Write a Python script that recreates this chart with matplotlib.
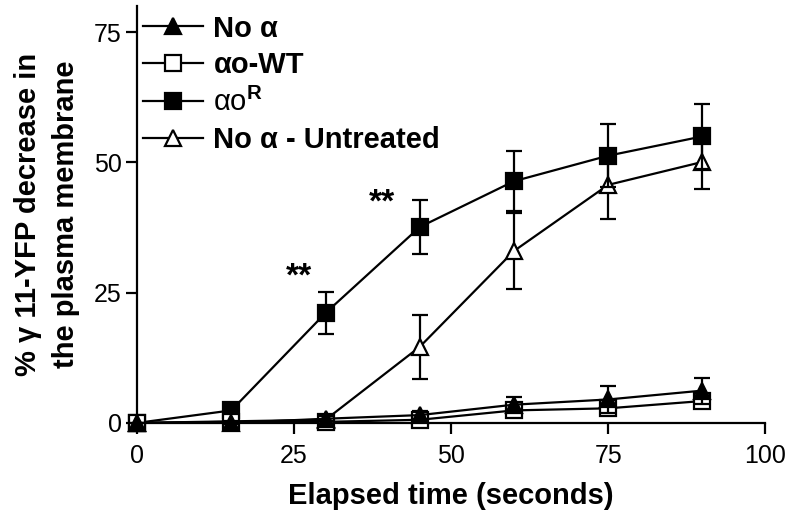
import numpy as np
import matplotlib
matplotlib.use("Agg")
import matplotlib.pyplot as plt
from matplotlib.lines import Line2D

plt.rcParams['font.family'] = ['Liberation Sans', 'DejaVu Sans']
plt.rcParams['mathtext.fontset'] = 'custom'
plt.rcParams['mathtext.rm'] = 'Liberation Sans'
plt.rcParams['mathtext.bf'] = 'Liberation Sans:bold'
plt.rcParams['mathtext.it'] = 'Liberation Sans:italic'

# time points (seconds)
t_all = [0, 15, 30, 45, 60, 75, 90]
t_untr = [0, 30, 45, 60, 75, 90]

no_a = [0, 0, 0.8, 1.5, 3.5, 4.5, 6.2]
no_a_err = [0, 0.3, 0.5, 0.8, 1.5, 2.6, 2.5]

wt = [0, 0.2, 0.2, 0.6, 2.4, 2.8, 4.2]
wt_err = [0, 0.3, 0.4, 0.6, 0.9, 1.0, 1.0]

aor = [0, 2.4, 21.1, 37.6, 46.4, 51.3, 55.0]
aor_err = [0, 0.5, 4.0, 5.2, 5.8, 6.0, 6.3]

untr = [0, 0.6, 14.6, 33.0, 45.7, 50.1]
untr_err = [0, 0.5, 6.2, 7.3, 6.6, 5.2]

labels = ['No α', 'αo-WT', r'αo$^{\mathbf{R}}$', 'No α - Untreated']

stars_x = [25.8, 39.0]
stars_y = [28.0, 42.3]

fig = plt.figure(figsize=(7.88, 5.17), dpi=100)
ax = fig.add_axes([0.174, 0.182, 0.797, 0.806])

lw = 1.6
ms = 11
kw = dict(color='black', lw=lw, capsize=6, elinewidth=lw, capthick=lw,
          markersize=ms, markeredgewidth=lw, clip_on=False)
ax.errorbar(t_all, no_a, yerr=no_a_err, marker='^', mfc='black', zorder=5, **kw)
ax.errorbar(t_all, wt, yerr=wt_err, marker='s', mfc='white', zorder=4, **kw)
ax.errorbar(t_all, aor, yerr=aor_err, marker='s', mfc='black', zorder=3, **kw)
ax.errorbar(t_untr, untr, yerr=untr_err, marker='^', mfc='white', zorder=2, **kw)

for x, y in zip(stars_x, stars_y):
    ax.text(x, y, '**', fontsize=24, fontweight='bold', ha='center', va='center')

ax.set_xlim(0, 100)
ax.set_ylim(0, 80)
ax.set_xticks([0, 25, 50, 75, 100])
ax.set_yticks([0, 25, 50, 75])
ax.spines['top'].set_visible(False)
ax.spines['right'].set_visible(False)
ax.spines['left'].set_linewidth(lw)
ax.spines['bottom'].set_linewidth(lw)
ax.tick_params(width=lw, length=8, labelsize=18)
ax.tick_params(axis='x', pad=7)
ax.tick_params(axis='y', pad=3)

ax.set_xlabel('Elapsed time (seconds)', fontsize=21, fontweight='bold', labelpad=10)
ax.set_ylabel('% γ 11-YFP decrease in\nthe plasma membrane', fontsize=21,
              fontweight='bold', linespacing=1.45, labelpad=10)

handles = [
    Line2D([], [], color='black', lw=lw, marker='^', mfc='black', ms=ms, mew=lw),
    Line2D([], [], color='black', lw=lw, marker='s', mfc='white', ms=ms, mew=lw),
    Line2D([], [], color='black', lw=lw, marker='s', mfc='black', ms=ms, mew=lw),
    Line2D([], [], color='black', lw=lw, marker='^', mfc='white', ms=ms, mew=lw),
]
leg = ax.legend(handles, labels, loc='upper left', bbox_to_anchor=(0.01, 0.98),
                frameon=False, fontsize=21, handlelength=2.05, handletextpad=0.35,
                labelspacing=0.3, borderaxespad=0, borderpad=0)
for i, txt in enumerate(leg.get_texts()):
    if i != 2:
        txt.set_fontweight('bold')

fig.savefig('out.png', dpi=100)
